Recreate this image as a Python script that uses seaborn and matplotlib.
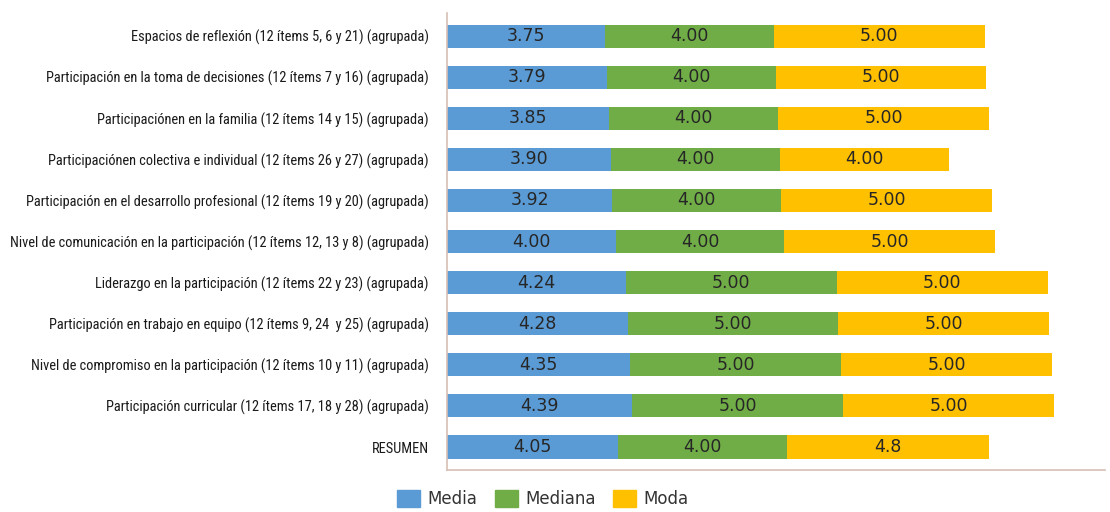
import pandas as pd
import matplotlib.pyplot as plt
import seaborn as sns
from matplotlib import font_manager

# Data
categories = [
    "Espacios de reflexión (12 ítems 5, 6 y 21) (agrupada)",
    "Participación en la toma de decisiones (12 ítems 7 y 16) (agrupada)",
    "Participaciónen en la familia (12 ítems 14 y 15) (agrupada)",
    "Participaciónen colectiva e individual (12 ítems 26 y 27) (agrupada)",
    "Participación en el desarrollo profesional (12 ítems 19 y 20) (agrupada)",
    "Nivel de comunicación en la participación (12 ítems 12, 13 y 8) (agrupada)",
    "Liderazgo en la participación (12 ítems 22 y 23) (agrupada)",
    "Participación en trabajo en equipo (12 ítems 9, 24  y 25) (agrupada)",
    "Nivel de compromiso en la participación (12 ítems 10 y 11) (agrupada)",
    "Participación curricular (12 ítems 17, 18 y 28) (agrupada)",
    "RESUMEN",
]
media = [3.75, 3.79, 3.85, 3.90, 3.92, 4.00, 4.24, 4.28, 4.35, 4.39, 4.05]
mediana = [4.00, 4.00, 4.00, 4.00, 4.00, 4.00, 5.00, 5.00, 5.00, 5.00, 4.00]
moda = [5.00, 5.00, 5.00, 4.00, 5.00, 5.00, 5.00, 5.00, 5.00, 5.00, 4.8]
moda_labels = ["5.00", "5.00", "5.00", "4.00", "5.00", "5.00", "5.00", "5.00", "5.00", "5.00", "4.8"]

series = ["Media", "Mediana", "Moda"]
colors = ["#5B9BD5", "#70AD47", "#FFC000"]

df = pd.DataFrame({"cat": categories, "Media": media, "Mediana": mediana, "Moda": moda})
df["c1"] = df["Media"]
df["c2"] = df["Media"] + df["Mediana"]
df["c3"] = df["c2"] + df["Moda"]

sns.set_style("white")
plt.rcParams["font.family"] = ["DejaVu Sans"]

# look for a narrow font for the long category labels
names = {f.name for f in font_manager.fontManager.ttflist}
stretches = {(f.name, f.stretch) for f in font_manager.fontManager.ttflist}
if "Liberation Sans Narrow" in names:
    label_font = dict(family="Liberation Sans Narrow")
elif "Roboto Condensed" in names:
    label_font = dict(family="Roboto Condensed")
elif any(n == "DejaVu Sans" and s == "condensed" for n, s in stretches):
    label_font = dict(family="DejaVu Sans", stretch="condensed")
else:
    label_font = dict(family="Liberation Sans")

fig = plt.figure(figsize=(11.1, 5.12), dpi=100)
ax = fig.add_axes([0.4027, 0.082, 0.5928, 0.8926])

# layered bars to get the stacked look
for col, c in zip(["c3", "c2", "c1"], colors[::-1]):
    sns.barplot(data=df, y="cat", x=col, color=c, width=0.56, saturation=1, ax=ax,
                orient="h", linewidth=0)

# value labels in the middle of each segment
for i in range(len(categories)):
    ax.text(media[i] / 2, i, f"{media[i]:.2f}", ha="center", va="center", fontsize=12.5, color="#262626")
    ax.text(media[i] + mediana[i] / 2, i, f"{mediana[i]:.2f}", ha="center", va="center", fontsize=12.5, color="#262626")
    ax.text(media[i] + mediana[i] + moda[i] / 2, i, moda_labels[i], ha="center", va="center", fontsize=12.5, color="#262626")

ax.set_xlim(0, 15.6)
ax.set_ylim(10.56, -0.56)
ax.set_xlabel("")
ax.set_ylabel("")
ax.set_xticks([])
ax.tick_params(axis="y", length=0, pad=13)
for lab in ax.get_yticklabels():
    lab.set(**label_font)
    lab.set_fontsize(11)
    lab.set_color("#1a1a1a")

# shrink labels so the widest fits in the left margin like the reference
fig.canvas.draw()
r = fig.canvas.get_renderer()
widest = max(lab.get_window_extent(r).width for lab in ax.get_yticklabels())
size = min(11, 11 * 422 / widest)
for lab in ax.get_yticklabels():
    lab.set_fontsize(size)

for s in ["top", "right"]:
    ax.spines[s].set_visible(False)
for s in ["left", "bottom"]:
    ax.spines[s].set_color("#d8bfb4")
    ax.spines[s].set_linewidth(1.2)

handles = [plt.Rectangle((0, 0), 1, 1, color=c) for c in colors]
fig.legend(handles, series, loc="lower center", bbox_to_anchor=(0.489, -0.022), ncol=3, frameon=False,
           fontsize=12, labelcolor="#333333", handlelength=1.38, handleheight=1.2,
           columnspacing=1.05, handletextpad=0.45)

fig.savefig("out.png", dpi=100)
